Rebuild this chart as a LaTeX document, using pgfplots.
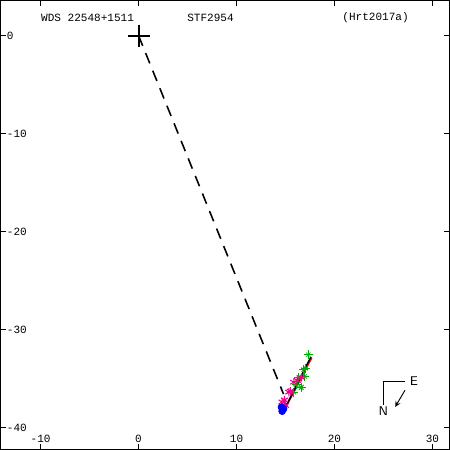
\documentclass[border=0pt]{standalone}
\usepackage{pgfplots}
\pgfplotsset{compat=1.18}
\usepackage{fontspec}
\setmainfont{Liberation Mono}
\definecolor{mygreen}{RGB}{0,170,0}
\begin{document}
\fontsize{7pt}{8pt}\selectfont
\begin{tikzpicture}
\begin{axis}[
  scale only axis, width=10cm, height=10cm,
  xmin=-14.08, xmax=31.73, ymin=-42.24, ymax=3.57,
  axis line style={line width=0.8pt},
  tick align=inside, major tick length=3.2pt,
  tick style={black, line width=0.6pt},
  xtick={-10,0,10,20,30}, ytick={-40,-30,-20,-10,0},
  /pgf/number format/assume math mode=true,
  ticklabel style={font=\fontsize{7pt}{8pt}\selectfont},
  xticklabel style={anchor=south, yshift=1.5pt},
  yticklabel style={anchor=west, xshift=1.5pt},
  clip=false,
]
% dashed line from primary
\addplot[black, line width=1pt, dash pattern=on 7pt off 5pt] coordinates {(0,0) (14.8,-36.6)};
% green measurements
\addplot[only marks, mark=+, mark size=2.8pt, mygreen, mark options={line width=0.5pt}] coordinates {
(17.32,-32.58) (17.04,-33.95) (16.87,-34.10) (16.97,-34.80) (16.36,-34.87) (16.63,-35.89) (16.60,-35.95) (15.85,-36.40) (16.10,-35.60)};
\addplot[only marks, mark=x, mark size=2pt, mygreen, mark options={line width=0.4pt}] coordinates {
(17.32,-32.58) (17.04,-33.95) (16.87,-34.10) (16.97,-34.80) (16.36,-34.87) (16.63,-35.89) (16.60,-35.95) (15.85,-36.40) (16.10,-35.60)};
% magenta measurements
\addplot[only marks, mark=asterisk, mark size=2.6pt, magenta, mark options={line width=0.7pt}] coordinates {
(15.85,-35.38) (16.20,-35.20) (16.63,-34.90) (15.34,-36.40) (15.50,-36.30) (14.66,-37.40) (15.00,-37.76) (14.90,-37.20)};
% blue measurements
\addplot[only marks, mark=*, mark size=2.2pt, blue] coordinates {
(14.59,-37.93) (14.66,-38.34) (14.80,-38.10)};
% red fit line
\addplot[red, line width=0.8pt] coordinates {(17.7,-32.88) (14.78,-38.45)};
% black fit line
\addplot[black, line width=1pt] coordinates {(17.6,-32.8) (14.7,-38.5)};
% primary
\addplot[only marks, mark=+, mark size=7pt, black, mark options={line width=1.3pt}] coordinates {(0,0)};
% titles
\node at (axis cs:-5.2,1.84) {WDS 22548+1511};
\node at (axis cs:7.35,1.84) {STF2954};
\node at (axis cs:24.2,1.84) {(Hrt2017a)};
% compass
\draw[line width=0.6pt] (axis cs:27.24,-35.3) -- (axis cs:25.0,-35.3) -- (axis cs:25.0,-37.76);
\node[anchor=west, inner sep=1pt] at (axis cs:27.5,-35.25) {\fontsize{8pt}{9pt}\selectfont\sffamily E};
\node[anchor=north, inner sep=1pt] at (axis cs:25.0,-37.7) {\fontsize{8pt}{9pt}\selectfont\sffamily N};
\draw[line width=0.6pt, -stealth] (axis cs:27.2,-36.2) -- (axis cs:26.2,-37.9);
\end{axis}
\end{tikzpicture}
\end{document}
